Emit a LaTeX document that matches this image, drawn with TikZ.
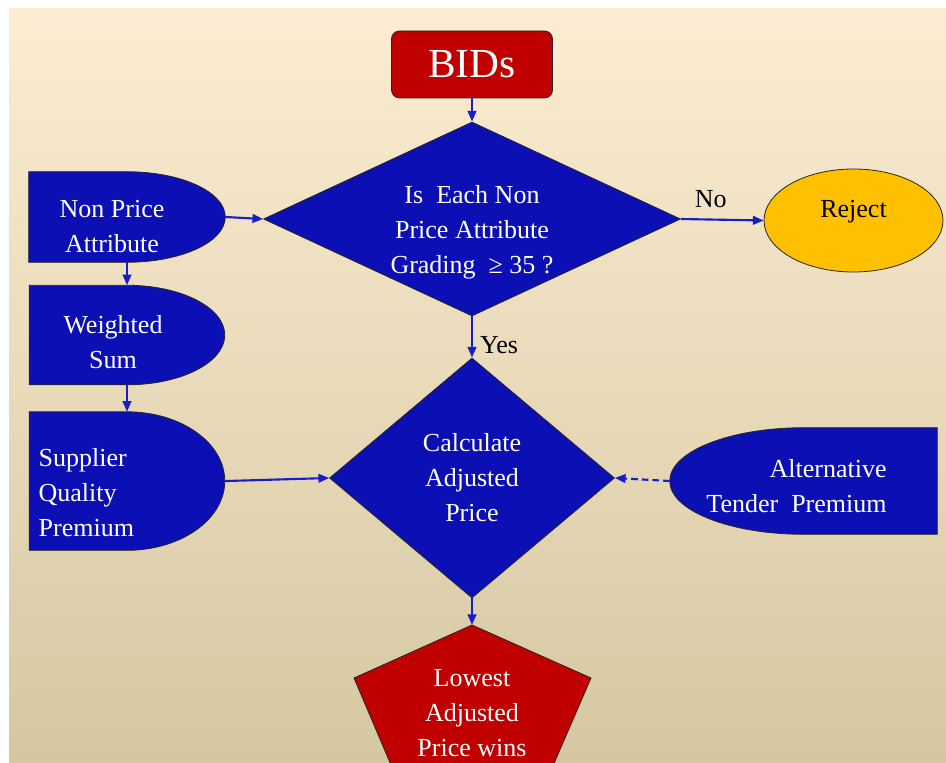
\documentclass[tikz,border=0pt]{standalone}
\usepackage{fontspec}
\setmainfont{Liberation Serif}
\usepackage{tikz}
\usetikzlibrary{shapes.geometric, arrows.meta, positioning, calc, backgrounds}
\definecolor{bidred}{RGB}{192, 0, 0}
\definecolor{boxblue}{RGB}{12, 16, 180}
\definecolor{linkblue}{RGB}{24, 30, 200}
\definecolor{rejectgold}{RGB}{255, 192, 0}
\definecolor{papertop}{RGB}{252, 237, 210}
\definecolor{papermid}{RGB}{245, 236, 214}
\definecolor{paperbottom}{RGB}{214, 199, 162}

% half-round input boxes (round side right / left)
\newcommand{\delayright}[1]{%
  \filldraw[fill=boxblue, draw=black!85, line width=0.6pt] (#1.south west) -- (#1.north west) -- (#1.north)
    .. controls ($(#1.north)!0.552!(#1.north east)$) and ($(#1.east)!0.552!(#1.north east)$) .. (#1.east)
    .. controls ($(#1.east)!0.552!(#1.south east)$) and ($(#1.south)!0.552!(#1.south east)$) .. (#1.south) -- cycle;}
\newcommand{\delayleft}[1]{%
  \filldraw[fill=boxblue, draw=black!85, line width=0.6pt] (#1.south east) -- (#1.north east) -- (#1.north)
    .. controls ($(#1.north)!0.552!(#1.north west)$) and ($(#1.west)!0.552!(#1.north west)$) .. (#1.west)
    .. controls ($(#1.west)!0.552!(#1.south west)$) and ($(#1.south)!0.552!(#1.south west)$) .. (#1.south) -- cycle;}

\begin{document}
\begin{tikzpicture}[
    x=0.75pt, y=-0.75pt,
    every node/.style={font=\fontsize{19.5}{26.25}\selectfont},
    start/.style={draw=black!85, line width=0.6pt, fill=bidred, rounded corners=6pt,
                  minimum width=120.75pt, minimum height=50.25pt, text=white,
                  font=\fontsize{31}{36}\selectfont},
    decision/.style={diamond, draw=black!85, line width=0.6pt, fill=boxblue, inner sep=0pt},
    inside/.style={text=white, align=center},
    input/.style={draw=none, inner sep=0pt},
    reject/.style={ellipse, draw=black!85, line width=0.6pt, fill=rejectgold,
                   minimum width=134.25pt, minimum height=77.25pt},
    arrow/.style={-{Triangle[length=8pt, width=6.5pt]}, line width=1.6pt, linkblue}
]
    \useasboundingbox (0,0) rectangle (946,763);
    \begin{scope}[on background layer]
        \fill[white] (0,0) rectangle (946,763);
        \shade[top color=papertop, middle color=papermid, bottom color=paperbottom]
            (9,9) rectangle (946,763);
    \end{scope}

    \node[start] (bids) at (472,64.5) {\raisebox{-2.5pt}{BIDs}};

    \node[decision, minimum width=312.75pt, minimum height=145.5pt,
          label={[inside, yshift=-10pt]center:{Is\ \ Each Non\\Price Attribute\\Grading\ \ ≥ 35 ?}}]
          (check) at (472,219) {};
    \node[reject, label={[yshift=7pt]center:Reject}] (rej) at (853.5,220.5) {};

    \node[input, minimum width=147pt, minimum height=67.5pt,
          label={[inside, xshift=-11.25pt, yshift=-7pt]center:{Non Price\\Attribute}}]
          (npa) at (127,217) {};
    \node[input, below=17.25pt of npa, minimum width=146.25pt, minimum height=74.25pt,
          label={[inside, xshift=-10.5pt, yshift=-5pt]center:{Weighted\\Sum}}] (ws) {};
    \node[input, below=20.25pt of ws, minimum width=146.25pt, minimum height=103.5pt,
          label={[inside, align=left, xshift=-30.5pt, yshift=-9pt]center:{Supplier\\Quality\\Premium}}]
          (sqp) {};

    \node[decision, minimum width=213.75pt, minimum height=180pt,
          label={[inside]center:{Calculate\\Adjusted\\Price}}] (calc) at (472,478) {};
    \node[input, minimum width=200.25pt, minimum height=79.5pt,
          label={[inside, align=right, xshift=-5.25pt, yshift=-3.75pt]center:{Alternative\\Tender\ \ Premium}}]
          (atp) at (803.5,481) {};

    \begin{scope}[on background layer]
        \delayright{npa}
        \delayright{ws}
        \delayright{sqp}
        \delayleft{atp}
        \filldraw[fill=bidred, draw=black!85, line width=0.6pt]
            (472,625) -- (591,678) -- (533,812) -- (411,812) -- (354,678) -- cycle;
    \end{scope}
    \coordinate (wintop) at (472,625);
    \node[inside] (win) at (472,713) {Lowest\\Adjusted\\Price wins};

    \draw[arrow] (bids.south) -- (check.north);
    \draw[arrow] (check.east) -- node[pos=0.36, above=5pt, text=black] {No} (rej.west);
    \draw[arrow] (check.south) -- node[pos=0.7, right=2pt, text=black] {Yes} (calc.north);
    \draw[arrow] (npa.east) -- (check.west);
    \draw[arrow] (npa.south) -- (ws.north);
    \draw[arrow] (ws.south) -- (sqp.north);
    \draw[arrow] (sqp.east) -- (calc.west);
    \draw[arrow, dash pattern=on 5pt off 3pt] (atp.west) -- (calc.east);
    \draw[arrow] (calc.south) -- (wintop);
\end{tikzpicture}
\end{document}
